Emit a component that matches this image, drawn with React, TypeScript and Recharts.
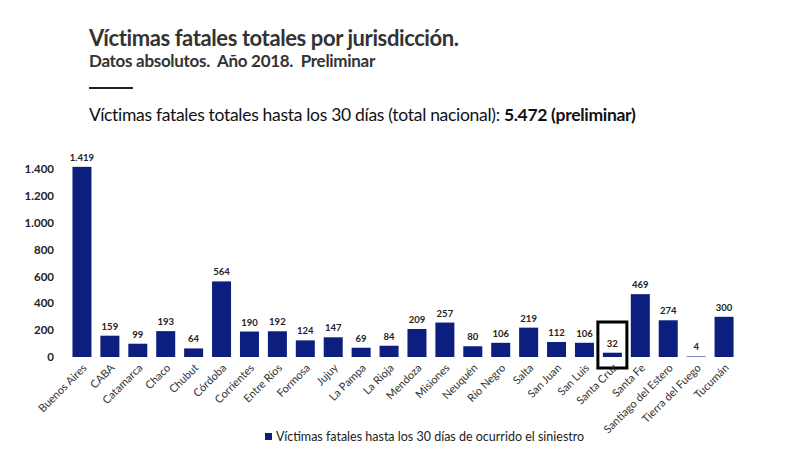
import { BarChart, Bar, XAxis, YAxis, LabelList } from 'recharts';

const provincias = [
  'Buenos Aires', 'CABA', 'Catamarca', 'Chaco', 'Chubut', 'Córdoba', 'Corrientes', 'Entre Ríos',
  'Formosa', 'Jujuy', 'La Pampa', 'La Rioja', 'Mendoza', 'Misiones', 'Neuquén', 'Río Negro',
  'Salta', 'San Juan', 'San Luis', 'Santa Cruz', 'Santa Fe', 'Santiago del Estero',
  'Tierra del Fuego', 'Tucumán',
];
const victimas = [
  1419, 159, 99, 193, 64, 564, 190, 192, 124, 147, 69, 84, 209, 257, 80, 106, 219, 112, 106, 32,
  469, 274, 4, 300,
];
const destacadas = ['Santa Cruz'];
const yTicks = [0, 200, 400, 600, 800, 1000, 1200, 1400];

const data = provincias.map((name, i) => ({
  name,
  value: victimas[i],
  highlight: destacadas.includes(name),
}));

const NAVY = '#0c1f7f';
const FONT = 'Lato, "Open Sans", sans-serif';

const fmt = (v: number) => String(v).replace(/\B(?=(\d{3})+(?!\d))/g, '.');

function BarShape(props: any) {
  const { x, y, width, height, payload } = props;
  const base = y + height;
  return (
    <g>
      <rect x={x} y={y} width={width} height={height} fill={NAVY} />
      {payload.highlight && (
        <rect
          x={x - 5}
          y={base - 35}
          width={width + 10}
          height={46}
          fill="none"
          stroke="#000"
          strokeWidth={3}
        />
      )}
    </g>
  );
}

export default function App() {
  return (
    <div style={{ position: 'absolute', left: 0, top: 0, width: 800, height: 458, background: '#fff', fontFamily: FONT }}>
      <div style={{ position: 'absolute', left: 89, top: 24, fontSize: 22, fontWeight: 700, color: '#333', letterSpacing: -0.4 }}>
        Víctimas fatales totales por jurisdicción.
      </div>
      <div style={{ position: 'absolute', left: 89, top: 50, fontSize: 17, fontWeight: 700, color: '#333', letterSpacing: -0.3 }}>
        Datos absolutos.&nbsp; Año 2018.&nbsp; Preliminar
      </div>
      <div style={{ position: 'absolute', left: 89, top: 87, width: 44, height: 2, background: '#222' }} />
      <div style={{ position: 'absolute', left: 89, top: 104, fontSize: 17.5, color: '#111', letterSpacing: -0.3 }}>
        Víctimas fatales totales hasta los 30 días (total nacional): <b>5.472 (preliminar)</b>
      </div>

      <div style={{ position: 'absolute', left: 0, top: 0 }}>
        <BarChart
          width={800}
          height={458}
          data={data}
          margin={{ top: 156, right: 62, left: 8, bottom: 0 }}
          barCategoryGap="16%"
        >
          <XAxis
            dataKey="name"
            interval={0}
            axisLine={false}
            tickLine={false}
            height={101}
            tick={{ fontSize: 11, fill: '#333', fontFamily: FONT, angle: -45, textAnchor: 'end', dy: -2 }}
          />
          <YAxis
            domain={[0, 1500]}
            ticks={yTicks}
            width={60}
            axisLine={false}
            tickLine={false}
            tickMargin={8}
            tickFormatter={fmt}
            tick={{ fontSize: 11.5, fill: '#222', fontWeight: 700, fontFamily: FONT }}
          />
          <Bar dataKey="value" fill={NAVY} isAnimationActive={false} shape={<BarShape />}>
            <LabelList
              dataKey="value"
              position="top"
              offset={6}
              formatter={(v: any) => fmt(Number(v))}
              style={{ fontSize: 9.5, fontWeight: 700, fill: '#222', fontFamily: FONT }}
            />
          </Bar>
        </BarChart>
      </div>

      <div style={{ position: 'absolute', left: 265, top: 429, display: 'flex', alignItems: 'center', fontSize: 12.5, color: '#222' }}>
        <span style={{ display: 'inline-block', width: 7, height: 7, background: NAVY, marginRight: 4 }} />
        Víctimas fatales hasta los 30 días de ocurrido el siniestro
      </div>
    </div>
  );
}
